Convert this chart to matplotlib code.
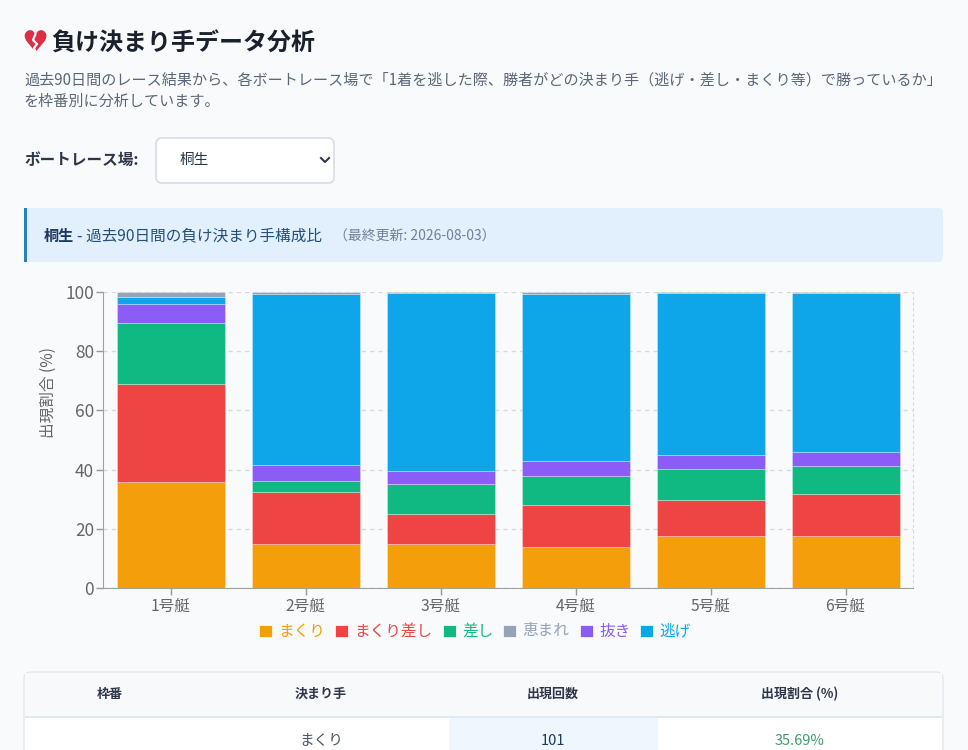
import matplotlib
matplotlib.use("Agg")
import matplotlib.pyplot as plt
from matplotlib.patches import FancyBboxPatch, Rectangle
import numpy as np

plt.rcParams['font.family'] = ['Noto Sans CJK JP', 'DejaVu Sans']

# ---------------- data ----------------
boats = ["1号艇", "2号艇", "3号艇", "4号艇", "5号艇", "6号艇"]
stack_order = ["まくり", "まくり差し", "差し", "抜き", "逃げ", "恵まれ"]
legend_order = ["まくり", "まくり差し", "差し", "恵まれ", "抜き", "逃げ"]
makuri      = [35.69, 15.0, 14.8, 13.8, 17.4, 17.5]
makurizashi = [33.22, 17.6, 10.3, 14.4, 12.4, 14.3]
sashi       = [20.49,  3.7, 10.2,  9.7, 10.3,  9.4]
nuki        = [ 6.71,  5.1,  4.1,  4.9,  4.7,  4.6]
nige        = [ 2.12, 57.9, 60.2, 56.5, 54.7, 53.8]
megumare    = [ 1.77,  0.7,  0.4,  0.7,  0.5,  0.4]
series = {"まくり": makuri, "まくり差し": makurizashi, "差し": sashi,
          "抜き": nuki, "逃げ": nige, "恵まれ": megumare}
colors = {"まくり": "#f59e0b", "まくり差し": "#ef4444", "差し": "#10b981",
          "恵まれ": "#94a3b8", "抜き": "#8b5cf6", "逃げ": "#0ea5e9"}
yticks = [0, 20, 40, 60, 80, 100]

table_headers = ["枠番", "決まり手", "出現回数", "出現割合 (%)"]
table_row = ["", "まくり", "101", "35.69%"]

W, H = 968, 750
fig = plt.figure(figsize=(W / 100, H / 100), dpi=100)
fig.patch.set_facecolor("#f8fafc")

bg = fig.add_axes([0, 0, 1, 1])
bg.set_xlim(0, W)
bg.set_ylim(H, 0)
bg.axis("off")
bg.set_zorder(0)

def pt(px):
    return px * 0.75

# ---- title with broken heart ----
bg.text(35, 43, "♥", fontsize=pt(29), color="#dd2e44", ha="center", va="center",
        family="DejaVu Sans", zorder=2)
bg.plot([35.5, 33, 37, 34, 36], [34, 40, 44, 48, 53], color="#f8fafc", lw=1.6,
        solid_capstyle="round", zorder=5)
bg.text(51, 44, "負け決まり手データ分析", fontsize=pt(23), fontweight="bold",
        color="#1a202c", ha="left", va="center")

bg.text(24, 80, "過去90日間のレース結果から、各ボートレース場で「1着を逃した際、勝者がどの決まり手（逃げ・差し・まくり等）で勝っているか」",
        fontsize=pt(14.5), color="#5a6778", ha="left", va="center")
bg.text(24, 101, "を枠番別に分析しています。", fontsize=pt(14.5), color="#5a6778",
        ha="left", va="center")

# ---- selector ----
bg.text(24, 160, "ボートレース場:", fontsize=pt(15), fontweight="bold",
        color="#2d3748", ha="left", va="center")
bg.add_patch(FancyBboxPatch((156, 138), 178, 45, boxstyle="round,pad=0,rounding_size=6",
                            facecolor="white", edgecolor="#d5dde8", lw=1.2))
bg.text(180, 160, "桐生", fontsize=pt(14), color="#2d3748", ha="left", va="center")
bg.plot([321, 325, 329], [158, 162, 158], color="#2d3748", lw=1.5)

# ---- info box ----
bg.add_patch(FancyBboxPatch((24, 208), 919, 54, boxstyle="round,pad=0,rounding_size=5",
                            facecolor="#e1f0fc", edgecolor="none"))
bg.add_patch(Rectangle((24, 208), 3, 54, facecolor="#2b7fc0", edgecolor="none"))
bg.text(44, 236, "桐生", fontsize=pt(14.5), fontweight="bold", color="#1e3a5f",
        ha="left", va="center")
bg.text(77, 236, "- 過去90日間の負け決まり手構成比", fontsize=pt(15), color="#24507a",
        ha="left", va="center")
bg.text(334, 236, "（最終更新: 2026-08-03）", fontsize=pt(13.3), color="#718096",
        ha="left", va="center")

# ---- chart ----
ax = fig.add_axes([103 / W, 1 - 588 / H, 810 / W, 296 / H])
ax.set_zorder(2)
ax.set_facecolor("none")
x = np.arange(len(boats))
bottom = np.zeros(len(boats))
for name in stack_order:
    vals = np.array(series[name])
    ax.bar(x, vals, 0.8, bottom=bottom, color=colors[name], zorder=3,
           edgecolor=(1, 1, 1, 0.35), linewidth=0.6)
    bottom += vals
ax.set_xlim(-0.5, len(boats) - 0.5)
ax.set_ylim(0, 100)
ax.set_yticks(yticks)
ax.set_xticks(x)
ax.set_xticklabels(boats)
ax.tick_params(axis="both", colors="#999999", labelcolor="#666666",
               labelsize=pt(15), length=5, width=1)
ax.tick_params(axis="y", labelsize=pt(16.5), pad=1.5)
ax.tick_params(axis="x", pad=2)
ax.yaxis.grid(True, color="#d9d9d9", linestyle=(0, (3, 3)), lw=1, zorder=0)
ax.set_axisbelow(True)
ax.spines["top"].set_visible(False)
ax.spines["right"].set_color("#d9d9d9")
ax.spines["right"].set_linestyle((0, (2, 3)))
ax.spines["left"].set_color("#a0a0a0")
ax.spines["bottom"].set_color("#a0a0a0")
bg.text(48, 392, "出現割合 (%)", rotation=90, fontsize=pt(15), color="#666666",
        ha="center", va="center")

# ---- legend ----
leg_sq_x = [259, 335, 443, 503, 580, 640]
for name, sx in zip(legend_order, leg_sq_x):
    bg.add_patch(Rectangle((sx, 625), 13, 12, facecolor=colors[name], edgecolor="white", lw=0.5))
    bg.text(sx + 19, 631, name, fontsize=pt(15), color=colors[name], ha="left", va="center")

# ---- table ----
bg.add_patch(FancyBboxPatch((24, 672), 919, 120, boxstyle="round,pad=0,rounding_size=7",
                            facecolor="white", edgecolor="#e2e8f0", lw=1))
bg.add_patch(Rectangle((25, 673), 917, 43, facecolor="#f7f9fb", edgecolor="none"))
bg.add_patch(Rectangle((25, 715.5), 917, 2.5, facecolor="#e2e8f0", edgecolor="none"))
bg.add_patch(Rectangle((449, 718), 209, 40, facecolor="#eef6fe", edgecolor="none"))
col_cx = [110, 321, 553, 800]
for cx, h in zip(col_cx, table_headers):
    bg.text(cx, 694, h, fontsize=pt(12.5), fontweight="bold", color="#2d3748",
            ha="center", va="center")
row_colors = ["#4a5568", "#4a5568", "#1e3a5f", "#38a169"]
for cx, v, c in zip(col_cx, table_row, row_colors):
    bg.text(cx, 741, v, fontsize=pt(14), color=c, ha="center", va="center")

fig.savefig("out.png", dpi=100, facecolor=fig.get_facecolor())
